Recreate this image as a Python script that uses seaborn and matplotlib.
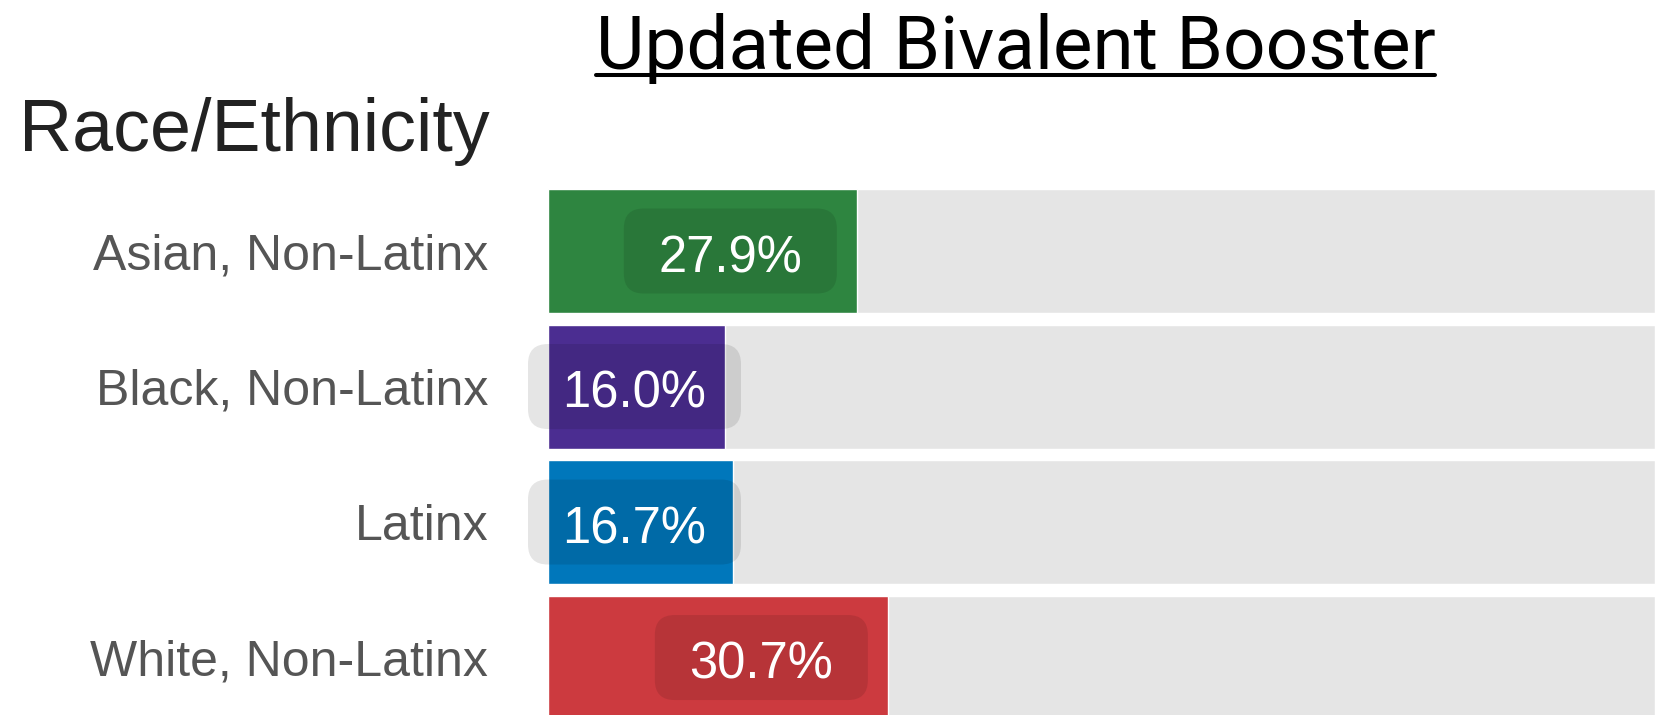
import matplotlib
matplotlib.use("Agg")
import matplotlib.pyplot as plt
import seaborn as sns
import pandas as pd
from matplotlib.patches import FancyBboxPatch
from matplotlib.lines import Line2D

# data
groups = ["Asian, Non-Latinx", "Black, Non-Latinx", "Latinx", "White, Non-Latinx"]
values = [27.9, 16.0, 16.7, 30.7]
colors = ["#2e8540", "#4b2d91", "#0077bb", "#cc3a3f"]
title = "Updated Bivalent Booster"
group_title = "Race/Ethnicity"

W, H = 1655, 715
sns.set_theme(style="white")
plt.rcParams["font.family"] = ["Liberation Sans", "DejaVu Sans"]

df = pd.DataFrame({"group": groups, "value": values, "full": [100] * len(groups)})

fig = plt.figure(figsize=(W / 100, H / 100), dpi=100)
ax = fig.add_axes([548 / W, 0, 1 - 548 / W, 1 - 189 / H])

# grey track behind each bar
sns.barplot(data=df, x="full", y="group", color="#e5e5e5", width=0.915,
            saturation=1, ax=ax)
sns.barplot(data=df, x="value", y="group", hue="group", palette=colors,
            width=0.915, saturation=1, legend=False, ax=ax)

ax.set_xlim(0, 100)
ax.set_ylim(3.424, -0.4576)
ax.set_xlabel("")
ax.set_ylabel("")
ax.set_xticks([])
sns.despine(ax=ax, left=True, bottom=True)
ax.tick_params(axis="y", length=0, pad=43)
for lab in ax.get_yticklabels():
    lab.set_fontsize(36)
    lab.set_color("#555555")

# value labels sitting in a faint rounded box
box_w, box_h = 213, 85
x0_px = ax.transData.transform((0, 0))[0]
for i, v in enumerate(values):
    end_px, cy = ax.transData.transform((v, i))
    cx = max(end_px - 20 - box_w / 2, x0_px - 20 + box_w / 2)
    box = FancyBboxPatch(((cx - box_w / 2) / W, (cy - box_h / 2) / H),
                         box_w / W, box_h / H,
                         boxstyle="round,pad=0,rounding_size=0.012",
                         transform=fig.transFigure, fc=(0, 0, 0, 0.1),
                         ec="none", mutation_aspect=W / H, zorder=5)
    fig.patches.append(box)
    fig.text(cx / W, (cy - 21) / H, f"{v:.1f}%", ha="center", va="baseline",
             color="white", fontsize=36.5, zorder=6)

fig.text(19 / W, 1 - 151 / H, group_title, ha="left", va="baseline",
         fontsize=53, color="#222222")

t = fig.text(1015.5 / W, 1 - 69 / H, title, ha="center", va="baseline",
             fontsize=53.7, color="black", family=["Roboto", "DejaVu Sans"])
fig.canvas.draw()
bb = t.get_window_extent()
fig.lines.append(Line2D([bb.x0 / W, bb.x1 / W], [1 - 75 / H, 1 - 75 / H],
                        transform=fig.transFigure, color="black", lw=2.9))

fig.savefig("out.png", dpi=100)
